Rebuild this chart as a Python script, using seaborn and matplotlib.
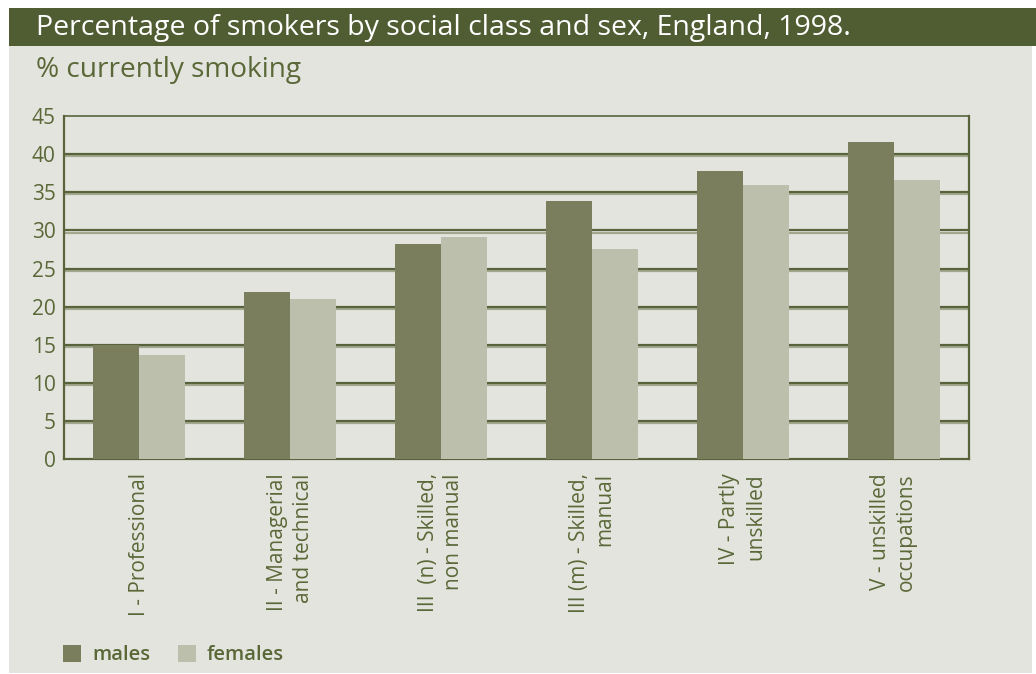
import matplotlib
matplotlib.use("Agg")
import matplotlib.pyplot as plt
import matplotlib.patheffects as pe
from matplotlib.patches import Rectangle
import seaborn as sns
import pandas as pd

categories = ["I - Professional", "II - Managerial\nand technical", "III  (n) - Skilled,\nnon manual",
              "III (m) - Skilled,\nmanual", "IV - Partly\nunskilled", "V - unskilled\noccupations"]
males = [15.0, 21.9, 28.2, 33.8, 37.8, 41.6]
females = [13.7, 21.0, 29.1, 27.6, 35.9, 36.6]
series = ["males", "females"]
yticks = [0, 5, 10, 15, 20, 25, 30, 35, 40, 45]

df = pd.DataFrame({
    "category": categories * 2,
    "sex": ["males"] * len(categories) + ["females"] * len(categories),
    "value": males + females,
})

sns.set_theme(style="white")
FONT = ["Open Sans", "DejaVu Sans"]
plt.rcParams["font.family"] = FONT

BG = "#e4e4de"
OLIVE = "#505d33"
TXT = "#5a6838"
LINE = "#58633c"

W, H = 1036, 674
fig = plt.figure(figsize=(W / 100, H / 100), dpi=100, facecolor="white")

def fx(px):
    return px / W

def fy(py):
    return 1 - py / H

# background panels
fig.patches.append(Rectangle((fx(9), fy(673)), fx(1032) - fx(9), fy(45) - fy(673),
                             transform=fig.transFigure, facecolor=BG, edgecolor="none", zorder=-10))
fig.patches.append(Rectangle((fx(9), fy(45.5)), 1 - fx(9), fy(8) - fy(45.5),
                             transform=fig.transFigure, facecolor=OLIVE, edgecolor="none", zorder=-10))

fig.text(fx(36), fy(27.5), "Percentage of smokers by social class and sex, England, 1998.",
         color="white", fontsize=20.5, va="center", ha="left")
fig.text(fx(36), fy(70), "% currently smoking", color=TXT, fontsize=20.2, va="center", ha="left")

ax = fig.add_axes([fx(64), fy(459.3), fx(969) - fx(64), fy(116) - fy(459.3)])
ax.set_zorder(5)
ax.set_facecolor(BG)
ax.patch.set_alpha(0)

sns.barplot(data=df, x="category", y="value", hue="sex", hue_order=series, order=categories,
            palette=["#7a7e5d", "#bcbfac"], width=0.61, ax=ax, saturation=1, zorder=3,
            edgecolor="none", linewidth=0)

ax.set_ylim(0, 45)
ax.set_xlim(-0.5, len(categories) - 0.5)
ax.set_yticks(yticks)
ax.set_yticklabels([str(v) for v in yticks])
for v in yticks[1:-1]:
    ax.axhline(v, color=LINE, lw=1.6, zorder=1,
               path_effects=[pe.SimpleLineShadow(offset=(0, -1.5), shadow_color="#a2a78e", alpha=1),
                             pe.Normal()])

for s in ax.spines.values():
    s.set_color(LINE)
    s.set_linewidth(1.6)
ax.spines["top"].set_linewidth(1.2)

ax.tick_params(axis="y", length=0, pad=6, labelsize=15, labelcolor=TXT)
ax.tick_params(axis="x", which="major", length=0, pad=10, labelsize=15, labelcolor=TXT)
ax.set_xticks([i - 0.5 for i in range(len(categories) + 1)], minor=True)
ax.tick_params(axis="x", which="minor", length=9.5, width=1.6, color=LINE, direction="out")
for lbl in ax.get_xticklabels():
    lbl.set_rotation(90)
    lbl.set_va("top")
    lbl.set_ha("center")
    lbl.set_multialignment("right")
    lbl.set_linespacing(1.3)
ax.set_xlabel("")
ax.set_ylabel("")

handles, labels = ax.get_legend_handles_labels()
ax.get_legend().remove()
leg = fig.legend(handles, labels, loc="center left", bbox_to_anchor=(fx(63), fy(655)),
                 ncol=2, frameon=False, fontsize=14.5, handlelength=0.9, handleheight=0.9,
                 handletextpad=0.55, columnspacing=1.35, borderaxespad=0, borderpad=0)
for t in leg.get_texts():
    t.set_color(TXT)
    t.set_fontweight("semibold")

fig.savefig("out.png", dpi=100, facecolor="white")
